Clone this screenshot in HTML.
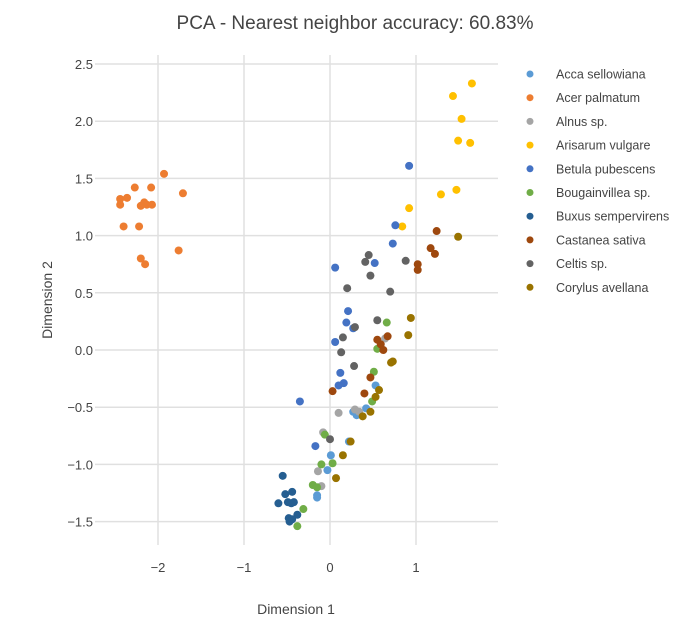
<!DOCTYPE html>
<html><head><meta charset="utf-8"><style>
body{margin:0;background:#fff;font-family:"Liberation Sans",Arial,sans-serif;}
svg text{font-family:"Liberation Sans",Arial,sans-serif;fill:#444;}
</style></head><body>
<svg id="chart" width="684" height="639">
<text x="355" y="29" text-anchor="middle" font-size="19">PCA - Nearest neighbor accuracy: 60.83%</text>
<g id="grid"></g><g id="ticks"></g><g id="points"></g><g id="legend"></g>
<text x="296" y="614" text-anchor="middle" font-size="14">Dimension 1</text>
<text x="52" y="300" text-anchor="middle" font-size="14" transform="rotate(-90 52 300)">Dimension 2</text>
</svg>
<script>
const seriesNames=["Acca sellowiana","Acer palmatum","Alnus sp.","Arisarum vulgare","Betula pubescens","Bougainvillea sp.","Buxus sempervirens","Castanea sativa","Celtis sp.","Corylus avellana"];
const seriesColors=["#5B9BD5","#ED7D31","#A5A5A5","#FFC000","#4472C4","#70AD47","#255E91","#9E480E","#636363","#997300"];
const xTicks=[-2,-1,0,1];
const yTicks=[-1.5,-1,-0.5,0,0.5,1,1.5,2,2.5];
const accaX=[0.53,0.27,0.31,0.42,0.22,0.01,-0.03,-0.15,-0.15];
const accaY=[-0.31,-0.54,-0.57,-0.51,-0.80,-0.92,-1.05,-1.27,-1.29];
const acerX=[-1.93,-2.27,-2.08,-2.36,-2.44,-2.44,-2.16,-2.13,-2.20,-2.07,-1.71,-2.40,-2.22,-1.76,-2.20,-2.15];
const acerY=[1.54,1.42,1.42,1.33,1.32,1.27,1.29,1.27,1.26,1.27,1.37,1.08,1.08,0.87,0.80,0.75];
const alnusX=[0.10,0.34,0.64,-0.08,-0.14,-0.10,0.29];
const alnusY=[-0.55,-0.54,0.10,-0.72,-1.06,-1.19,-0.52];
const arisX=[1.65,1.43,1.53,1.49,1.63,1.29,1.47,0.92,0.84];
const arisY=[2.33,2.22,2.02,1.83,1.81,1.36,1.40,1.24,1.08];
const betulaX=[0.92,0.76,0.73,0.06,0.52,0.21,0.19,0.27,0.06,0.12,0.16,0.10,-0.35,-0.17];
const betulaY=[1.61,1.09,0.93,0.72,0.76,0.34,0.24,0.19,0.07,-0.20,-0.29,-0.31,-0.45,-0.84];
const bougX=[0.66,0.55,0.51,0.49,-0.06,-0.10,0.03,-0.20,-0.15,-0.31,-0.38];
const bougY=[0.24,0.01,-0.19,-0.45,-0.74,-1.00,-0.99,-1.18,-1.20,-1.39,-1.54];
const buxusX=[-0.55,-0.52,-0.44,-0.60,-0.49,-0.45,-0.42,-0.38,-0.48,-0.47,-0.44];
const buxusY=[-1.10,-1.26,-1.24,-1.34,-1.33,-1.34,-1.33,-1.44,-1.47,-1.50,-1.48];
const castX=[1.24,1.17,1.22,1.02,1.02,0.55,0.59,0.67,0.62,0.47,0.03,0.40];
const castY=[1.04,0.89,0.84,0.75,0.70,0.09,0.05,0.12,0.00,-0.24,-0.36,-0.38];
const celtisX=[0.45,0.41,0.47,0.20,0.70,0.88,0.55,0.29,0.15,0.13,0.28,0.00];
const celtisY=[0.83,0.77,0.65,0.54,0.51,0.78,0.26,0.20,0.11,-0.02,-0.14,-0.78];
const coryX=[1.49,0.94,0.91,0.73,0.71,0.57,0.53,0.47,0.38,0.24,0.15,0.07];
const coryY=[0.99,0.28,0.13,-0.10,-0.11,-0.35,-0.41,-0.54,-0.58,-0.80,-0.92,-1.12];
const seriesX=[accaX,acerX,alnusX,arisX,betulaX,bougX,buxusX,castX,celtisX,coryX];
const seriesY=[accaY,acerY,alnusY,arisY,betulaY,bougY,buxusY,castY,celtisY,coryY];

const NS="http://www.w3.org/2000/svg";
const L=95,R=498,T=55,B=545;
function sx(v){return 330+v*86;}
function sy(v){return 350-v*114.4;}
function mk(tag,attrs,parent){const e=document.createElementNS(NS,tag);for(const k in attrs)e.setAttribute(k,attrs[k]);parent.appendChild(e);return e;}
const grid=document.getElementById('grid'),ticks=document.getElementById('ticks'),pts=document.getElementById('points'),leg=document.getElementById('legend');
xTicks.forEach(v=>{
  const l=mk('line',{x1:sx(v),x2:sx(v),y1:T,y2:B,stroke:'#e0e0e0','stroke-width':1.5},grid);
  
  
  const t=mk('text',{x:sx(v),y:572,'text-anchor':'middle','font-size':13},ticks);
  t.textContent=v<0?'\u2212'+Math.abs(v):String(v);
  
  
});
yTicks.forEach(v=>{
  const l=mk('line',{x1:L,x2:R,y1:sy(v),y2:sy(v),stroke:'#e0e0e0','stroke-width':1.5},grid);
  
  
  const t=mk('text',{x:93,y:sy(v)+5,'text-anchor':'end','font-size':13},ticks);
  t.textContent=(v<0?'\u2212':'')+Math.abs(v).toFixed(1);
  
  
});
seriesNames.forEach((n,i)=>{
  const g=mk('g',{},pts);
  
  
  seriesX[i].forEach((x,j)=>{
    const c=mk('circle',{cx:sx(x),cy:sy(seriesY[i][j]),r:4,fill:seriesColors[i]},g);
    
    
  });
  const y=74+i*23.7;
  const lg=mk('g',{},leg);
  
  
  mk('circle',{cx:530,cy:y,r:3.5,fill:seriesColors[i]},lg);
  const t=mk('text',{x:556,y:y+4.5,'font-size':12.5},lg);
  t.textContent=n;
});
</script>
</body></html>
